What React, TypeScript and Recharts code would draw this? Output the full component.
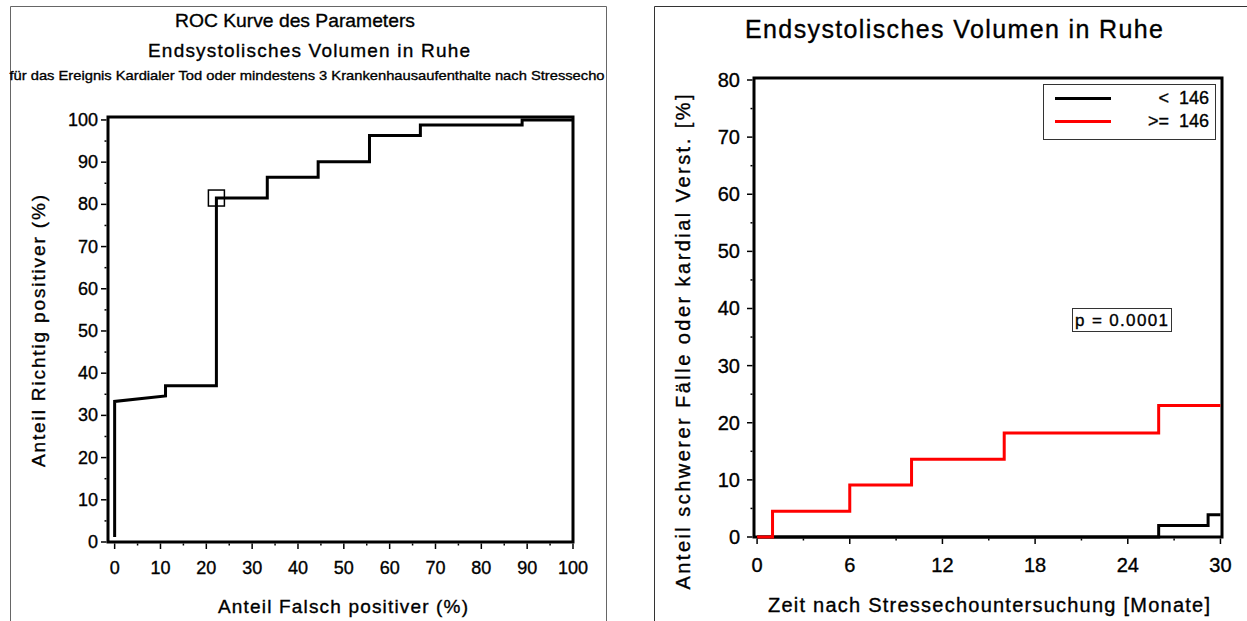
import { Legend, Line, LineChart, ReferenceArea, ReferenceDot, XAxis, YAxis } from 'recharts';

const FONT = '"Liberation Sans", Arial, Helvetica, sans-serif';
const TXT = { fill: '#000', stroke: '#000', strokeWidth: 0.35 };

// ROC curve (left panel)
const rocFpr = [0, 0, 11.1, 11.1, 22.2, 22.2, 33.3, 33.3, 44.4, 44.4, 55.6, 55.6, 66.7, 66.7, 88.9, 88.9, 100];
const rocTpr = [1.2, 33.3, 34.6, 37.0, 37.0, 81.5, 81.5, 86.4, 86.4, 90.1, 90.1, 96.3, 96.3, 98.8, 98.8, 100, 100];
const cutoffFpr = 22.2;
const cutoffTpr = 81.5;
const rocTicks = [0, 5, 10, 15, 20, 25, 30, 35, 40, 45, 50, 55, 60, 65, 70, 75, 80, 85, 90, 95, 100];

// cumulative event curves (right panel)
const lowMonths = [0, 26, 29.2, 30];
const lowValues = [0, 2.0, 3.9, 3.9];
const highMonths = [0, 1, 6, 10, 16, 26, 30];
const highValues = [0, 4.5, 9.1, 13.6, 18.2, 23.0, 23.0];
const monthTicks = [0, 3, 6, 9, 12, 15, 18, 21, 24, 27, 30];
const pctTicks = [0, 5, 10, 15, 20, 25, 30, 35, 40, 45, 50, 55, 60, 65, 70, 75, 80];

const rocData = rocFpr.map((x, i) => ({ fpr: x, tpr: rocTpr[i] }));
const lowData = lowMonths.map((m, i) => ({ month: m, value: lowValues[i] }));
const highData = highMonths.map((m, i) => ({ month: m, value: highValues[i] }));

const yTick = (major: number, gap: number, size: number) => (p: any) => {
    const v = p.payload.value;
    const isMajor = v % major === 0;
    return (
        <g>
            <line x1={p.x - 1.5} x2={p.x - (isMajor ? 7 : 3.5)} y1={p.y} y2={p.y} stroke="#000" strokeWidth={1.5} />
            {isMajor && (
                <text x={p.x - gap} y={p.y} textAnchor="end" dominantBaseline="central" fontSize={size} fontFamily={FONT} {...TXT}>
                    {v}
                </text>
            )}
        </g>
    );
};

const xTick = (major: number, gap: number, size: number) => (p: any) => {
    const v = p.payload.value;
    const isMajor = v % major === 0;
    return (
        <g>
            <line x1={p.x} x2={p.x} y1={p.y + 1.5} y2={p.y + (isMajor ? 7 : 3.5)} stroke="#000" strokeWidth={1.5} />
            {isMajor && (
                <text x={p.x} y={p.y + gap} textAnchor="middle" dominantBaseline="central" fontSize={size} fontFamily={FONT} {...TXT}>
                    {v}
                </text>
            )}
        </g>
    );
};

const renderLegend = (props: any) => (
    <div
        style={{
            width: 173,
            height: 56,
            border: '1px solid #333',
            boxSizing: 'border-box',
            background: '#fff',
            position: 'relative',
            fontFamily: FONT,
        }}
    >
        {(props.payload || []).map((e: any, i: number) => (
            <div key={i} style={{ position: 'absolute', left: 11, top: 3 + i * 23, width: 154, height: 20, display: 'flex', alignItems: 'center' }}>
                <span style={{ width: 56, height: 3, background: e.color }} />
                <span style={{ marginLeft: 'auto', fontSize: 18, wordSpacing: 5, whiteSpace: 'pre', color: '#000', WebkitTextStroke: '0.35px #000' }}>
                    {e.value}
                </span>
            </div>
        ))}
    </div>
);

const App = () => {
    return (
        <div style={{ position: 'absolute', left: 0, top: 0, width: 1247, height: 621, background: '#fff', fontFamily: FONT }}>
            <div style={{ position: 'absolute', left: 0, top: 0 }}>
                <LineChart width={620} height={621} data={rocData} margin={{ top: 117, right: 47, left: 0, bottom: 0 }}>
                    <XAxis
                        dataKey="fpr"
                        type="number"
                        domain={[-1.45, 100]}
                        ticks={rocTicks}
                        interval={0}
                        height={79}
                        tickSize={0}
                        tickMargin={0}
                        axisLine={false}
                        tickLine={false}
                        tick={xTick(10, 26, 18)}
                    />
                    <YAxis
                        type="number"
                        domain={[0, 100.7]}
                        ticks={rocTicks}
                        interval={0}
                        width={108}
                        tickSize={0}
                        tickMargin={0}
                        axisLine={false}
                        tickLine={false}
                        tick={yTick(10, 10, 18)}
                    />
                    <ReferenceArea x1={-1.45} x2={100} y1={0} y2={100.7} fill="none" fillOpacity={0} stroke="#000" strokeWidth={3} />
                    <Line type="linear" dataKey="tpr" stroke="#000" strokeWidth={3} dot={false} isAnimationActive={false} />
                    <ReferenceDot
                        x={cutoffFpr}
                        y={cutoffTpr}
                        shape={(p: any) => <rect x={p.cx - 8} y={p.cy - 8} width={16} height={16} fill="none" stroke="#000" strokeWidth={1.5} />}
                    />
                </LineChart>
            </div>

            <div style={{ position: 'absolute', left: 640, top: 0 }}>
                <LineChart width={607} height={621} margin={{ top: 78, right: 25, left: 0, bottom: 0 }}>
                    <XAxis
                        dataKey="month"
                        type="number"
                        domain={[-0.2, 30.1]}
                        ticks={monthTicks}
                        interval={0}
                        height={84}
                        tickSize={0}
                        tickMargin={0}
                        axisLine={false}
                        tickLine={false}
                        tick={xTick(6, 28, 20)}
                    />
                    <YAxis
                        type="number"
                        domain={[0, 80.35]}
                        ticks={pctTicks}
                        interval={0}
                        width={114}
                        tickSize={0}
                        tickMargin={0}
                        axisLine={false}
                        tickLine={false}
                        tick={yTick(10, 14, 20)}
                    />
                    <ReferenceArea x1={-0.2} x2={30.1} y1={0} y2={80.35} fill="none" fillOpacity={0} stroke="#000" strokeWidth={3} />
                    <Line data={lowData} type="stepAfter" dataKey="value" name="< 146" stroke="#000" strokeWidth={3} dot={false} isAnimationActive={false} />
                    <Line data={highData} type="stepAfter" dataKey="value" name=">= 146" stroke="#ff0000" strokeWidth={3} dot={false} isAnimationActive={false} />
                    <Legend
                        layout="vertical"
                        align="center"
                        verticalAlign="middle"
                        content={renderLegend}
                        wrapperStyle={{ left: 403, top: 84, width: 173, height: 56 }}
                    />
                </LineChart>
            </div>

            <svg width={1247} height={621} style={{ position: 'absolute', left: 0, top: 0, pointerEvents: 'none' }} fontFamily={FONT}>
                {/* panel frames */}
                <polyline points="10.5,621 10.5,6.5 606.5,6.5 606.5,621" fill="none" stroke="#666" strokeWidth={1} />
                <polyline points="654.5,621 654.5,6.5 1247,6.5" fill="none" stroke="#333" strokeWidth={1} />

                {/* left titles */}
                <text x={295} y={27} textAnchor="middle" fontSize={19} textLength={240} lengthAdjust="spacingAndGlyphs" {...TXT}>
                    ROC Kurve des Parameters
                </text>
                <text x={309} y={57} textAnchor="middle" fontSize={19} textLength={322} lengthAdjust="spacing" {...TXT}>
                    Endsystolisches Volumen in Ruhe
                </text>
                <text x={307} y={80} textAnchor="middle" fontSize={13.5} textLength={595} lengthAdjust="spacingAndGlyphs" {...TXT}>
                    für das Ereignis Kardialer Tod oder mindestens 3 Krankenhausaufenthalte nach Stressecho
                </text>
                <text x={343} y={606} textAnchor="middle" dominantBaseline="central" fontSize={19} textLength={250} lengthAdjust="spacing" {...TXT}>
                    Anteil Falsch positiver (%)
                </text>
                <text
                    x={0}
                    y={0}
                    transform="translate(38,331) rotate(-90)"
                    textAnchor="middle"
                    dominantBaseline="central"
                    fontSize={19}
                    textLength={272}
                    lengthAdjust="spacing"
                    {...TXT}
                >
                    Anteil Richtig positiver (%)
                </text>

                {/* right titles */}
                <text x={954} y={38} textAnchor="middle" fontSize={25} textLength={418} lengthAdjust="spacing" {...TXT}>
                    Endsystolisches Volumen in Ruhe
                </text>
                <text x={989} y={605} textAnchor="middle" dominantBaseline="central" fontSize={20} textLength={442} lengthAdjust="spacing" {...TXT}>
                    Zeit nach Stressechountersuchung [Monate]
                </text>
                <text
                    x={0}
                    y={0}
                    transform="translate(683,342) rotate(-90)"
                    textAnchor="middle"
                    dominantBaseline="central"
                    fontSize={20}
                    textLength={495}
                    lengthAdjust="spacing"
                    {...TXT}
                >
                    Anteil schwerer Fälle oder kardial Verst. [%]
                </text>

                {/* p value box */}
                <rect x={1072.5} y={308.5} width={99} height={23} fill="#fff" stroke="#333" strokeWidth={1} />
                <text x={1075} y={320} dominantBaseline="central" fontSize={17} textLength={93} lengthAdjust="spacing" {...TXT}>
                    p = 0.0001
                </text>
            </svg>
        </div>
    );
};

export default App;
